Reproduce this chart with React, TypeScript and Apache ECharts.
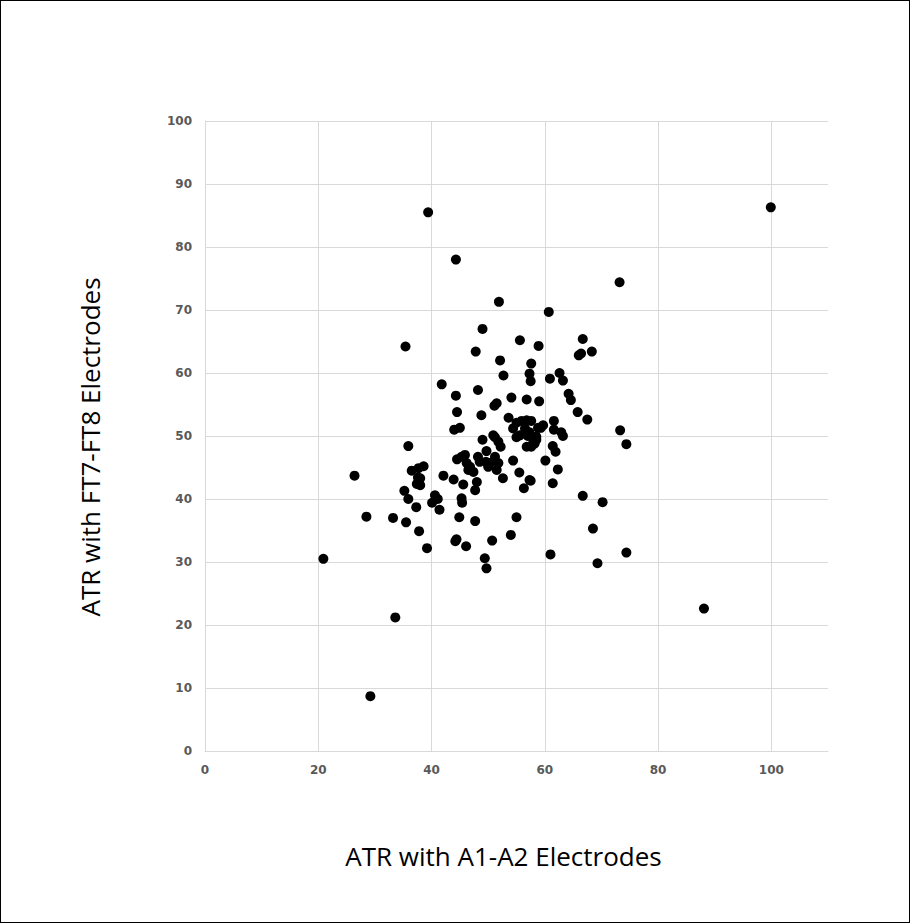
import React, { useEffect, useRef } from "react";
import * as echarts from "echarts";

const xTitle = "ATR with A1-A2 Electrodes";
const yTitle = "ATR with FT7-FT8 Electrodes";

const atrA1A2: number[] = [
  39.4, 99.9, 44.3, 73.2, 51.9, 60.7, 49.0, 55.6, 58.9, 35.4,
  47.8, 66.7, 68.3, 66.0, 66.4, 52.1, 57.6, 62.6, 63.2, 60.9,
  57.3, 57.5, 52.7, 41.8, 48.2, 44.3, 64.2, 64.6, 54.1, 56.8,
  59.0, 51.1, 51.5, 65.8, 67.5, 44.5, 48.8, 53.6, 73.3, 74.4,
  55.0, 55.9, 56.8, 57.6, 61.6, 54.4, 56.5, 58.8, 59.3, 59.7,
  61.6, 62.9, 63.2, 44.0, 45.0, 49.0, 50.9, 51.2, 51.8, 52.2,
  55.0, 57.0, 58.5, 57.9, 56.8, 58.5, 58.2, 57.6, 61.4, 61.9,
  60.1, 62.3, 57.5, 61.4, 66.7, 70.2, 68.5, 74.4, 55.6, 57.3,
  44.5, 45.3, 45.9, 46.2, 46.8, 46.5, 47.4, 48.2, 48.5, 49.7,
  49.6, 50.3, 50.0, 51.2, 51.8, 51.5, 52.6, 54.4, 55.5, 57.3,
  56.3, 42.1, 43.9, 45.6, 48.0, 47.7, 45.3, 45.4, 40.6, 40.1,
  41.4, 41.1, 44.9, 47.7, 55.0, 54.0, 44.2, 44.4, 46.1, 50.7,
  39.2, 38.6, 38.0, 38.0, 35.9, 26.4, 36.5, 37.7, 37.6, 37.4,
  35.2, 35.9, 37.3, 28.5, 33.2, 35.5, 37.8, 20.9, 61.0, 69.3,
  49.4, 49.7, 88.1, 33.6, 29.2
];

const atrFT7FT8: number[] = [
  85.5, 86.3, 78.0, 74.4, 71.3, 69.7, 67.0, 65.2, 64.3, 64.2,
  63.4, 65.4, 63.4, 62.8, 63.1, 62.0, 61.5, 60.0, 58.8, 59.1,
  59.9, 58.7, 59.6, 58.2, 57.3, 56.4, 56.7, 55.7, 56.1, 55.8,
  55.5, 54.8, 55.2, 53.8, 52.6, 53.8, 53.3, 52.9, 50.9, 48.7,
  52.1, 52.4, 52.5, 52.4, 52.4, 51.2, 51.2, 51.3, 51.3, 51.7,
  51.0, 50.6, 50.0, 51.0, 51.3, 49.4, 50.1, 49.8, 49.1, 48.3,
  49.8, 50.0, 49.9, 48.8, 48.3, 49.4, 48.8, 48.3, 48.4, 47.5,
  46.1, 44.7, 42.9, 42.5, 40.5, 39.5, 35.3, 31.5, 50.1, 50.6,
  46.3, 46.7, 47.0, 45.7, 45.1, 44.6, 44.3, 46.7, 45.9, 47.6,
  45.9, 45.7, 45.1, 46.7, 45.7, 44.6, 43.3, 46.1, 44.2, 43.0,
  41.7, 43.7, 43.1, 42.3, 42.7, 41.4, 40.1, 39.4, 40.6, 39.4,
  38.3, 40.0, 37.1, 36.5, 37.1, 34.3, 33.3, 33.6, 32.5, 33.4,
  32.2, 45.2, 43.3, 42.2, 48.4, 43.7, 44.5, 44.9, 43.4, 42.4,
  41.3, 40.0, 38.7, 37.2, 37.0, 36.3, 34.9, 30.5, 31.2, 29.8,
  30.6, 29.0, 22.6, 21.2, 8.7
];

const xTicks = { min: 0, max: 110, interval: 20 };
const yTicks = { min: 0, max: 100, interval: 10 };

export default function App() {
  const ref = useRef<HTMLDivElement>(null);
  useEffect(() => {
    if (!ref.current) return;
    const chart = echarts.init(ref.current, null, { renderer: "svg" });
    const data = atrA1A2.map((x, i) => [x, atrFT7FT8[i]]);
    const tickLabel = {
      color: "#595959",
      fontWeight: "bold" as const,
      fontSize: 12,
      fontFamily: "DejaVu Sans",
    };
    chart.setOption({
      animation: false,
      backgroundColor: "#ffffff",
      grid: { left: 204, right: 81, top: 120, bottom: 171, containLabel: false },
      xAxis: {
        type: "value",
        min: xTicks.min,
        max: xTicks.max,
        interval: xTicks.interval,
        name: xTitle,
        nameLocation: "middle",
        nameGap: 92,
        nameTextStyle: { fontSize: 26, color: "#000", fontFamily: "Open Sans", padding: [0, 26, 0, 0] },
        axisLine: { show: true, lineStyle: { color: "#d9d9d9", width: 1 } },
        axisTick: { show: false },
        axisLabel: { ...tickLabel, margin: 13, showMaxLabel: false },
        splitLine: { show: true, showMaxLine: false, lineStyle: { color: "#d9d9d9", width: 1 } },
      },
      yAxis: {
        type: "value",
        min: yTicks.min,
        max: yTicks.max,
        interval: yTicks.interval,
        name: yTitle,
        nameLocation: "middle",
        nameGap: 102,
        nameRotate: 90,
        nameTextStyle: { fontSize: 26, color: "#000", fontFamily: "Open Sans", padding: [0, 22, 0, 0] },
        axisLine: { show: true, lineStyle: { color: "#d9d9d9", width: 1 } },
        axisTick: { show: false },
        axisLabel: { ...tickLabel, margin: 13 },
        splitLine: { show: true, lineStyle: { color: "#d9d9d9", width: 1 } },
      },
      series: [
        {
          type: "scatter",
          data,
          symbol: "circle",
          symbolSize: 10,
          itemStyle: { color: "#000000", opacity: 1 },
        },
      ],
    });
    return () => chart.dispose();
  }, []);
  return (
    <div
      ref={ref}
      style={{
        position: "fixed",
        left: 0,
        top: 0,
        width: 910,
        height: 923,
        border: "1px solid #000",
        boxSizing: "border-box",
      }}
    />
  );
}
